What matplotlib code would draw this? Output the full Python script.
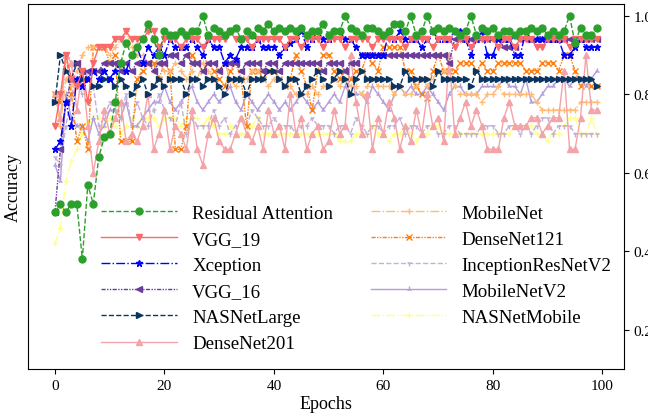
import numpy as np
import matplotlib
matplotlib.use('Agg')
from matplotlib import pyplot as plt

plt.rcParams['font.family'] = ['Liberation Serif', 'DejaVu Serif']

# Acurácia por época
epochs = np.arange(100)

residual_attention = [
    0.50, 0.52, 0.50, 0.52, 0.52, 0.38, 0.57, 0.52, 0.64, 0.69,
    0.70, 0.78, 0.88, 0.93, 0.90, 0.92, 0.94, 0.98, 0.94, 0.90,
    0.96, 0.95, 0.95, 0.96, 0.95, 0.96, 0.96, 1.00, 0.95, 0.97,
    0.96, 0.95, 0.96, 0.97, 0.94, 0.96, 0.95, 0.97, 0.96, 0.98,
    0.96, 0.97, 0.96, 0.97, 0.96, 0.97, 0.95, 0.96, 0.96, 0.98,
    0.95, 0.96, 0.96, 1.00, 0.97, 0.96, 0.95, 0.97, 0.97, 0.96,
    0.95, 0.96, 0.98, 0.98, 0.96, 1.00, 0.95, 0.96, 1.00, 0.96,
    0.97, 0.96, 0.97, 0.96, 0.95, 0.96, 1.00, 0.95, 0.97, 0.96,
    0.97, 0.95, 0.96, 0.96, 0.95, 0.96, 0.96, 0.97, 0.96, 0.97,
    0.95, 0.96, 0.95, 0.96, 1.00, 0.93, 0.97, 0.95, 0.95, 0.97,
]
vgg19 = [
    0.72, 0.80, 0.90, 0.84, 0.82, 0.86, 0.78, 0.88, 0.92, 0.92,
    0.92, 0.94, 0.94, 0.96, 0.94, 0.94, 0.94, 0.96, 0.96, 0.92,
    0.94, 0.94, 0.94, 0.92, 0.94, 0.94, 0.94, 0.92, 0.94, 0.94,
    0.94, 0.94, 0.96, 0.94, 0.94, 0.94, 0.92, 0.94, 0.94, 0.94,
    0.94, 0.94, 0.92, 0.94, 0.94, 0.92, 0.94, 0.94, 0.94, 0.92,
    0.94, 0.94, 0.94, 0.92, 0.94, 0.94, 0.94, 0.94, 0.92, 0.94,
    0.94, 0.94, 0.94, 0.94, 0.92, 0.94, 0.94, 0.94, 0.94, 0.92,
    0.94, 0.94, 0.94, 0.92, 0.94, 0.94, 0.92, 0.94, 0.94, 0.94,
    0.94, 0.92, 0.94, 0.94, 0.92, 0.94, 0.94, 0.94, 0.92, 0.92,
    0.94, 0.94, 0.94, 0.94, 0.92, 0.94, 0.94, 0.94, 0.94, 0.94,
]
xception = [
    0.66, 0.68, 0.78, 0.72, 0.84, 0.82, 0.84, 0.86, 0.84, 0.86,
    0.84, 0.86, 0.88, 0.86, 0.90, 0.92, 0.88, 0.92, 0.90, 0.92,
    0.90, 0.94, 0.92, 0.92, 0.92, 0.94, 0.92, 0.90, 0.94, 0.92,
    0.92, 0.88, 0.90, 0.89, 0.92, 0.92, 0.92, 0.94, 0.92, 0.92,
    0.92, 0.90, 0.92, 0.93, 0.94, 0.96, 0.92, 0.94, 0.96, 0.94,
    0.94, 0.96, 0.96, 0.94, 0.94, 0.92, 0.90, 0.90, 0.90, 0.90,
    0.90, 0.96, 0.94, 0.96, 0.94, 0.94, 0.94, 0.92, 0.94, 0.96,
    0.94, 0.94, 0.94, 0.96, 0.96, 0.94, 0.90, 0.94, 0.96, 0.90,
    0.90, 0.94, 0.94, 0.94, 0.90, 0.90, 0.96, 0.94, 0.94, 0.94,
    0.94, 0.94, 0.94, 0.90, 0.90, 0.92, 0.94, 0.92, 0.92, 0.92,
]
vgg16 = [
    0.50, 0.66, 0.78, 0.84, 0.88, 0.86, 0.86, 0.86, 0.86, 0.88,
    0.88, 0.88, 0.86, 0.88, 0.86, 0.88, 0.88, 0.88, 0.86, 0.88,
    0.88, 0.90, 0.90, 0.88, 0.90, 0.88, 0.88, 0.86, 0.88, 0.88,
    0.86, 0.88, 0.88, 0.88, 0.86, 0.88, 0.88, 0.88, 0.86, 0.88,
    0.88, 0.86, 0.88, 0.88, 0.88, 0.88, 0.88, 0.88, 0.88, 0.86,
    0.88, 0.88, 0.88, 0.86, 0.88, 0.88, 0.90, 0.90, 0.90, 0.90,
    0.90, 0.90, 0.90, 0.90, 0.90, 0.90, 0.90, 0.90, 0.90, 0.90,
    0.90, 0.90, 0.88, 0.94, 0.94, 0.94, 0.94, 0.94, 0.94, 0.94,
    0.94, 0.94, 0.92, 0.92, 0.92, 0.94, 0.94, 0.94, 0.94, 0.94,
    0.94, 0.94, 0.94, 0.94, 0.94, 0.94, 0.94, 0.94, 0.94, 0.94,
]
nasnet_large = [
    0.78, 0.90, 0.86, 0.84, 0.88, 0.84, 0.84, 0.82, 0.82, 0.84,
    0.84, 0.82, 0.84, 0.82, 0.80, 0.82, 0.84, 0.80, 0.82, 0.84,
    0.82, 0.84, 0.84, 0.84, 0.80, 0.84, 0.84, 0.82, 0.84, 0.84,
    0.82, 0.80, 0.84, 0.84, 0.84, 0.80, 0.84, 0.84, 0.84, 0.86,
    0.86, 0.84, 0.82, 0.84, 0.84, 0.80, 0.82, 0.84, 0.86, 0.84,
    0.82, 0.84, 0.86, 0.84, 0.80, 0.84, 0.86, 0.84, 0.84, 0.84,
    0.84, 0.84, 0.82, 0.82, 0.86, 0.84, 0.84, 0.84, 0.84, 0.82,
    0.86, 0.84, 0.84, 0.84, 0.84, 0.84, 0.82, 0.86, 0.84, 0.84,
    0.84, 0.84, 0.84, 0.84, 0.84, 0.84, 0.84, 0.84, 0.84, 0.84,
    0.84, 0.84, 0.84, 0.84, 0.84, 0.84, 0.84, 0.84, 0.84, 0.82,
]
densenet201 = [
    0.80, 0.74, 0.90, 0.88, 0.76, 0.86, 0.72, 0.60, 0.68, 0.76,
    0.70, 0.74, 0.78, 0.68, 0.70, 0.68, 0.72, 0.80, 0.66, 0.70,
    0.76, 0.66, 0.72, 0.70, 0.66, 0.76, 0.66, 0.62, 0.70, 0.74,
    0.68, 0.66, 0.66, 0.70, 0.74, 0.70, 0.68, 0.72, 0.66, 0.76,
    0.70, 0.72, 0.66, 0.80, 0.70, 0.74, 0.66, 0.70, 0.72, 0.66,
    0.68, 0.76, 0.70, 0.72, 0.90, 0.78, 0.70, 0.80, 0.66, 0.74,
    0.70, 0.78, 0.74, 0.66, 0.72, 0.68, 0.76, 0.70, 0.80, 0.72,
    0.74, 0.68, 0.90, 0.70, 0.74, 0.78, 0.72, 0.76, 0.72, 0.66,
    0.66, 0.66, 0.74, 0.78, 0.72, 0.72, 0.72, 0.74, 0.74, 0.70,
    0.72, 0.74, 0.74, 0.86, 0.66, 0.66, 0.74, 0.90, 0.76, 0.76,
]
mobilenet = [
    0.80, 0.72, 0.84, 0.82, 0.86, 0.90, 0.92, 0.92, 0.92, 0.92,
    0.90, 0.92, 0.94, 0.96, 0.92, 0.90, 0.90, 0.88, 0.86, 0.88,
    0.86, 0.86, 0.88, 0.86, 0.84, 0.86, 0.84, 0.88, 0.86, 0.84,
    0.86, 0.88, 0.84, 0.82, 0.84, 0.84, 0.86, 0.86, 0.84, 0.82,
    0.84, 0.84, 0.82, 0.82, 0.80, 0.80, 0.80, 0.82, 0.80, 0.82,
    0.82, 0.84, 0.82, 0.84, 0.82, 0.82, 0.80, 0.82, 0.84, 0.82,
    0.82, 0.82, 0.80, 0.82, 0.80, 0.80, 0.82, 0.84, 0.82, 0.84,
    0.86, 0.86, 0.86, 0.82, 0.80, 0.80, 0.80, 0.80, 0.78, 0.80,
    0.80, 0.82, 0.80, 0.80, 0.80, 0.80, 0.80, 0.80, 0.78, 0.76,
    0.76, 0.76, 0.76, 0.76, 0.76, 0.76, 0.78, 0.78, 0.78, 0.78,
]
densenet121 = [
    0.80, 0.78, 0.90, 0.80, 0.68, 0.72, 0.66, 0.92, 0.92, 0.92,
    0.88, 0.90, 0.68, 0.68, 0.68, 0.84, 0.86, 0.88, 0.88, 0.84,
    0.88, 0.86, 0.66, 0.66, 0.72, 0.90, 0.88, 0.86, 0.88, 0.86,
    0.84, 0.82, 0.86, 0.88, 0.84, 0.72, 0.86, 0.86, 0.84, 0.86,
    0.86, 0.84, 0.82, 0.84, 0.90, 0.86, 0.82, 0.76, 0.86, 0.90,
    0.90, 0.86, 0.84, 0.86, 0.84, 0.86, 0.86, 0.90, 0.88, 0.86,
    0.92, 0.92, 0.92, 0.92, 0.86, 0.86, 0.82, 0.80, 0.79, 0.86,
    0.90, 0.86, 0.86, 0.86, 0.88, 0.88, 0.88, 0.86, 0.88, 0.86,
    0.86, 0.88, 0.88, 0.88, 0.88, 0.88, 0.86, 0.86, 0.86, 0.88,
    0.88, 0.88, 0.86, 0.90, 0.90, 0.86, 0.82, 0.84, 0.82, 0.82,
]
inception_resnet_v2 = [
    0.64, 0.62, 0.72, 0.80, 0.84, 0.80, 0.86, 0.82, 0.72, 0.74,
    0.78, 0.76, 0.74, 0.80, 0.72, 0.78, 0.74, 0.72, 0.76, 0.80,
    0.76, 0.74, 0.72, 0.78, 0.70, 0.74, 0.72, 0.72, 0.72, 0.76,
    0.72, 0.74, 0.70, 0.72, 0.74, 0.72, 0.76, 0.74, 0.72, 0.72,
    0.74, 0.72, 0.72, 0.72, 0.70, 0.72, 0.72, 0.74, 0.72, 0.72,
    0.72, 0.70, 0.72, 0.72, 0.70, 0.74, 0.72, 0.70, 0.72, 0.72,
    0.70, 0.72, 0.72, 0.74, 0.70, 0.72, 0.72, 0.70, 0.72, 0.72,
    0.70, 0.70, 0.72, 0.72, 0.70, 0.70, 0.70, 0.70, 0.72, 0.72,
    0.72, 0.70, 0.70, 0.72, 0.72, 0.70, 0.72, 0.70, 0.72, 0.74,
    0.74, 0.70, 0.72, 0.72, 0.72, 0.70, 0.70, 0.70, 0.70, 0.70,
]
mobilenet_v2 = [
    0.62, 0.58, 0.80, 0.74, 0.72, 0.72, 0.68, 0.74, 0.70, 0.72,
    0.76, 0.76, 0.74, 0.78, 0.72, 0.72, 0.74, 0.76, 0.78, 0.78,
    0.82, 0.78, 0.76, 0.78, 0.80, 0.82, 0.78, 0.76, 0.78, 0.80,
    0.78, 0.80, 0.82, 0.78, 0.76, 0.80, 0.78, 0.76, 0.78, 0.80,
    0.78, 0.76, 0.78, 0.76, 0.78, 0.80, 0.78, 0.76, 0.78, 0.76,
    0.78, 0.80, 0.78, 0.82, 0.80, 0.80, 0.80, 0.78, 0.82, 0.80,
    0.78, 0.76, 0.80, 0.82, 0.80, 0.82, 0.80, 0.80, 0.82, 0.80,
    0.78, 0.76, 0.80, 0.82, 0.82, 0.80, 0.80, 0.80, 0.82, 0.82,
    0.82, 0.82, 0.84, 0.82, 0.82, 0.80, 0.84, 0.78, 0.78, 0.80,
    0.82, 0.82, 0.84, 0.84, 0.82, 0.84, 0.84, 0.82, 0.84, 0.86,
]
nasnet_mobile = [
    0.42, 0.46, 0.58, 0.63, 0.66, 0.70, 0.73, 0.74, 0.74, 0.72,
    0.74, 0.72, 0.70, 0.72, 0.74, 0.72, 0.74, 0.74, 0.74, 0.72,
    0.74, 0.74, 0.74, 0.72, 0.74, 0.74, 0.74, 0.72, 0.74, 0.72,
    0.70, 0.70, 0.72, 0.70, 0.70, 0.70, 0.72, 0.74, 0.70, 0.70,
    0.70, 0.70, 0.70, 0.70, 0.70, 0.70, 0.70, 0.70, 0.70, 0.70,
    0.70, 0.70, 0.68, 0.68, 0.68, 0.70, 0.70, 0.70, 0.72, 0.70,
    0.70, 0.68, 0.70, 0.70, 0.72, 0.70, 0.68, 0.70, 0.70, 0.72,
    0.72, 0.70, 0.70, 0.70, 0.70, 0.70, 0.70, 0.70, 0.70, 0.70,
    0.70, 0.70, 0.70, 0.70, 0.72, 0.72, 0.72, 0.72, 0.70, 0.70,
    0.68, 0.70, 0.70, 0.72, 0.74, 0.74, 0.70, 0.70, 0.74, 0.70,
]

# Séries: (rótulo, valores, cor, estilo, marcador, tamanho)
series = [
    ('Residual Attention', residual_attention, '#2ca02c', '--', 'o', 5),
    ('VGG_19', vgg19, '#fa6a6a', '-', 'v', 5),
    ('Xception', xception, '#0000ff', '-.', '*', 5),
    ('VGG_16', vgg16, '#6a3d9a', (0, (3, 1, 1, 1, 1, 1)), '<', 5),
    ('NASNetLarge', nasnet_large, '#0b3560', '--', '>', 5),
    ('DenseNet201', densenet201, '#f4a3a8', '-', '^', 5),
    ('MobileNet', mobilenet, '#ffbb78', '-.', '+', 5),
    ('DenseNet121', densenet121, '#ff7f0e', (0, (3, 1, 1, 1, 1, 1)), 'x', 5),
    ('InceptionResNetV2', inception_resnet_v2, '#c5b0d5', '--', '1', 4),
    ('MobileNetV2', mobilenet_v2, '#b39ddb', '-', '2', 4),
    ('NASNetMobile', nasnet_mobile, '#ffff8a', '-.', '+', 4),
]

fig, ax = plt.subplots(figsize=(6.48, 4.14), dpi=100)
fig.subplots_adjust(left=0.043, right=0.963, top=0.988, bottom=0.106)

for i, (label, vals, color, ls, mk, ms) in enumerate(series):
    ax.plot(epochs, vals, color=color, linestyle=ls, marker=mk, markersize=ms,
            linewidth=1, label=label, zorder=20 - i)

ax.set_ylim(0.1, 1.03)
ax.set_xticks(np.arange(0, 101, 20))
ax.set_yticks([0.2, 0.4, 0.6, 0.8, 1.0])
ax.yaxis.tick_right()
ax.tick_params(labelsize=11)
ax.set_xlabel('Epochs', fontsize=13, labelpad=2)
ax.set_ylabel('Accuracy', fontsize=13, labelpad=4)

ax.legend(ncol=2, frameon=False, fontsize=13.6, handlelength=4,
          labelspacing=0.47, loc='lower left', bbox_to_anchor=(0.095, 0.0))

fig.savefig('out.png', dpi=100)
